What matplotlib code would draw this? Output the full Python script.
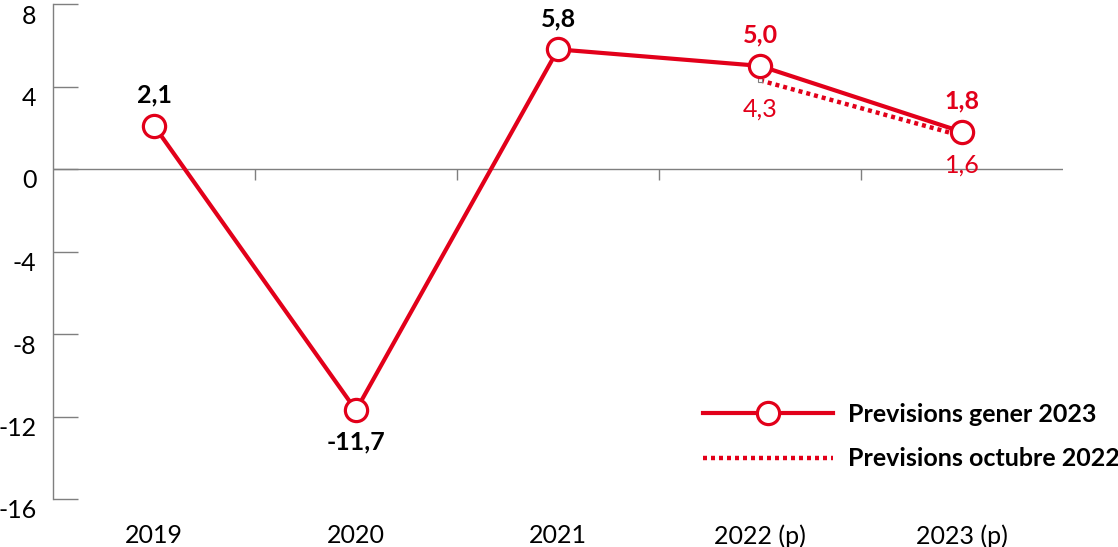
import numpy as np
import matplotlib.pyplot as plt
from matplotlib.transforms import ScaledTranslation

# data
years = ['2019', '2020', '2021', '2022 (p)', '2023 (p)']
gener_2023 = [2.1, -11.7, 5.8, 5.0, 1.8]
octubre_2022 = [4.3, 1.6]          # for 2022 (p) and 2023 (p)
gener_labels = ['2,1', '-11,7', '5,8', '5,0', '1,8']
octubre_labels = ['4,3', '1,6']
yticks = [8, 4, 0, -4, -8, -12, -16]

RED = '#E2001A'
GREY = '#7f7f7f'

plt.rcParams['font.family'] = ['Lato', 'DejaVu Sans']

fig = plt.figure(figsize=(11.18, 5.47), dpi=100)
ax = fig.add_axes([53 / 1118, 48 / 547, 1010 / 1118, 495 / 547])

x = np.arange(len(years))
x_oct = x[-len(octubre_2022):]

# lines
ax.plot(x_oct, octubre_2022, color=RED, lw=3.2, linestyle=(0, (0.9, 0.9)),
        zorder=2, label='Previsions octubre 2022')
ax.plot(x_oct[:1], octubre_2022[:1], linestyle='none', marker='s', ms=3,
        mfc='white', mec=GREY, mew=0.8, zorder=2)
ax.plot(x, gener_2023, color=RED, lw=3, marker='o', ms=16, mfc='white',
        mec=RED, mew=2.3, zorder=3, label='Previsions gener 2023')

# zero line and category separators
ax.axhline(0, color=GREY, lw=1, zorder=1)
ax.vlines(x[:-1] + 0.5, -0.55, 0, color=GREY, lw=1, zorder=1)

# value labels
label_offsets = [22, -23, 22, 22, 22]
label_colors = ['black', 'black', 'black', RED, RED]
for xi, v, txt, off, c in zip(x, gener_2023, gener_labels, label_offsets, label_colors):
    ax.annotate(txt, (xi, v), xytext=(0, off), textcoords='offset points',
                ha='center', va='center', fontsize=18, fontweight='bold', color=c)
for xi, v, txt in zip(x_oct, octubre_2022, octubre_labels):
    ax.annotate(txt, (xi, v), xytext=(0, -21), textcoords='offset points',
                ha='center', va='center', fontsize=18, color=RED)

# axes styling
ax.set_xlim(-0.5, len(years) - 0.5)
ax.set_ylim(-16, 8)
ax.set_yticks(yticks)
ax.set_yticklabels([str(t) for t in yticks])
ax.set_xticks(x)
ax.set_xticklabels(years)
for s in ['top', 'right', 'bottom']:
    ax.spines[s].set_visible(False)
ax.spines['left'].set_color(GREY)
ax.spines['left'].set_linewidth(1)
ax.tick_params(axis='y', direction='in', length=18, color=GREY, width=1,
               labelsize=18, pad=12)
ax.tick_params(axis='x', length=0, labelsize=18, pad=18)
offset = ScaledTranslation(0, -0.10, fig.dpi_scale_trans)
for lab in ax.get_yticklabels():
    lab.set_transform(lab.get_transform() + offset)

# legend
h, l = ax.get_legend_handles_labels()
leg = ax.legend(h[::-1], l[::-1], loc='upper left',
                bbox_to_anchor=(703 / 1118, 1 - 403 / 547),
                bbox_transform=fig.transFigure, frameon=False, borderpad=0,
                borderaxespad=0, handlelength=5.2, handletextpad=0.6,
                labelspacing=0.85, prop={'size': 18, 'weight': 'bold'})

fig.savefig('out.png', dpi=100)
